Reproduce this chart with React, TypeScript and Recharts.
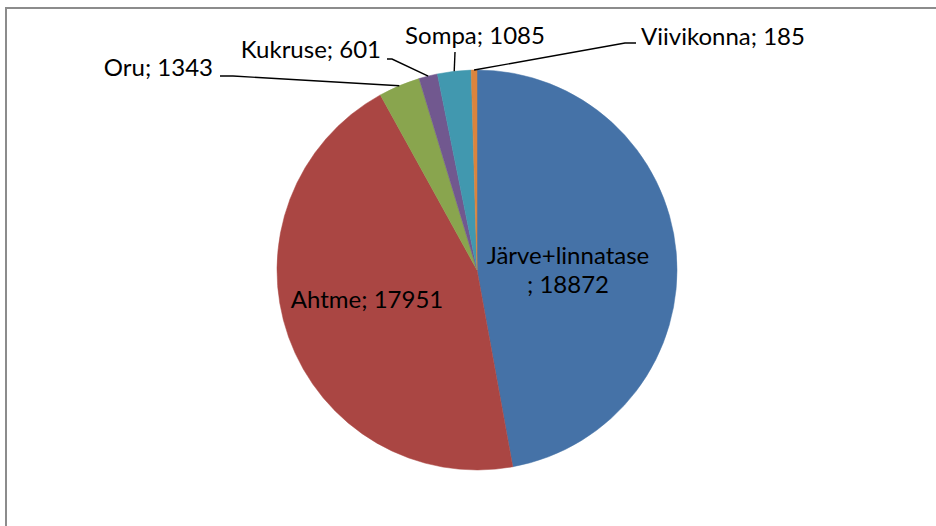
import { PieChart, Pie, Cell } from 'recharts';

const NAMES = ['Järve+linnatase', 'Ahtme', 'Oru', 'Kukruse', 'Sompa', 'Viivikonna'];
const VALUES = [18872, 17951, 1343, 601, 1085, 185];
const COLORS = ['#4572A7', '#AA4643', '#89A54E', '#71588F', '#4198AF', '#DB843D'];

const data = NAMES.map((name, i) => ({ name, value: VALUES[i] }));

const RAD = Math.PI / 180;
const FONT = 'Lato, "Noto Sans", sans-serif';

// label placement relative to the pie centre; line points run from label towards slice
const LAYOUT: Record<number, { lines: string[]; dx: number; dy: number[]; anchor: string; path?: number[][] }> = {
  0: { lines: ['Järve+linnatase', '; 18872'], dx: 91, dy: [-6, 23], anchor: 'middle' },
  1: { lines: ['Ahtme; 17951'], dx: -110, dy: [38], anchor: 'middle' },
  2: { lines: ['Oru; 1343'], dx: -264, dy: [-194], anchor: 'end', path: [[-257, -194], [-244, -194]] },
  3: { lines: ['Kukruse; 601'], dx: -96, dy: [-212], anchor: 'end', path: [[-90, -211], [-85, -211]] },
  4: { lines: ['Sompa; 1085'], dx: -2, dy: [-226], anchor: 'middle', path: [[-22, -218]] },
  5: { lines: ['Viivikonna; 185'], dx: 164, dy: [-225], anchor: 'start', path: [[159, -227], [148, -227]] },
};

const renderLabel = (props: any) => {
  const { cx, cy, midAngle, outerRadius, index } = props;
  const l = LAYOUT[index];
  if (!l) return null;
  let line = null;
  if (l.path) {
    const ex = cx + outerRadius * Math.cos(-midAngle * RAD);
    const ey = cy + outerRadius * Math.sin(-midAngle * RAD);
    const pts = l.path.map(([x, y]) => `${cx + x},${cy + y}`).concat(`${ex},${ey}`);
    line = <polyline points={pts.join(' ')} fill="none" stroke="#000" strokeWidth={1.4} />;
  }
  return (
    <g key={`lbl-${index}`}>
      {line}
      {l.lines.map((t, k) => (
        <text key={k} x={cx + l.dx} y={cy + l.dy[k]} textAnchor={l.anchor as any} fill="#000" fontSize={24} fontFamily={FONT}>
          {t}
        </text>
      ))}
    </g>
  );
};

export default function App() {
  return (
    <div style={{ position: 'absolute', left: 0, top: 0, width: 936, height: 526, overflow: 'hidden', background: '#fff' }}>
      <div style={{ position: 'absolute', left: 5, top: 7, width: 1000, height: 600, border: '2px solid #8c8c8c' }} />
      <div style={{ position: 'absolute', left: 0, top: 0 }}>
        <PieChart width={936} height={526} margin={{ top: 0, right: 0, bottom: 0, left: 0 }}>
          <Pie
            data={data}
            dataKey="value"
            cx={477}
            cy={270}
            outerRadius={200}
            startAngle={90}
            endAngle={-270}
            label={renderLabel}
            labelLine={false}
            isAnimationActive={false}
          >
            {data.map((entry, i) => (
              <Cell key={entry.name} fill={COLORS[i]} stroke={COLORS[i]} strokeWidth={0.5} />
            ))}
          </Pie>
        </PieChart>
      </div>
    </div>
  );
}
